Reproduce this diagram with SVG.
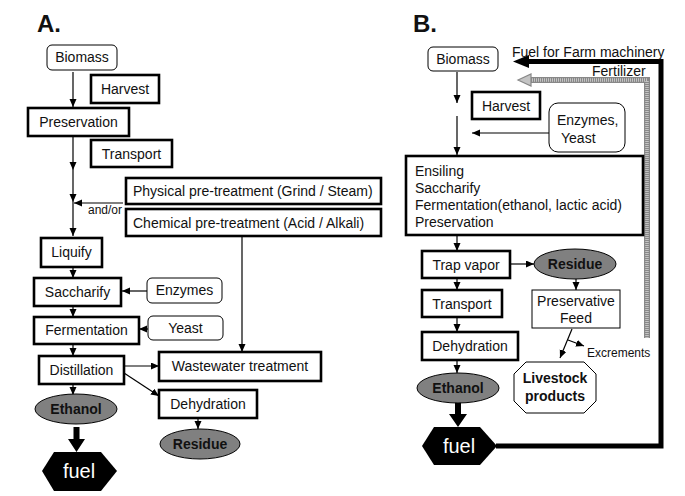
<svg xmlns="http://www.w3.org/2000/svg" width="685" height="496" viewBox="0 0 685 496">
<defs>
<style>
text{font-family:"Liberation Sans",Arial,sans-serif;font-size:14px;fill:#111}
.c{text-anchor:middle}
.b{font-weight:bold}
.h{font-size:24px;font-weight:bold}
.fuel{font-size:20px;fill:#fff;text-anchor:middle}
.sm{font-size:12px}
.thick{fill:#fff;stroke:#000;stroke-width:2.6}
.thin{fill:#fff;stroke:#000;stroke-width:1}
.ell{fill:#808080;stroke:#000;stroke-width:1}
.hex{fill:#000}
.ln{fill:none;stroke:#000;stroke-width:1.2}
</style>
<marker id="ah" markerUnits="userSpaceOnUse" markerWidth="9" markerHeight="8" refX="8" refY="3.5" orient="auto">
<path d="M0,0 L8,3.5 L0,7 z" fill="#000"/>
</marker>
</defs>
<rect width="685" height="496" fill="#fff"/>

<text class="h" x="37" y="32">A.</text>
<text class="h" x="413" y="32">B.</text>

<g id="connectors">
<!-- Panel A -->
<line class="ln" x1="73" y1="72" x2="73" y2="107" marker-end="url(#ah)"/>
<line class="ln" x1="73" y1="137" x2="73" y2="170" marker-end="url(#ah)"/>
<line class="ln" x1="73" y1="170" x2="73" y2="202" marker-end="url(#ah)"/>
<line class="ln" x1="73" y1="202" x2="73" y2="236" marker-end="url(#ah)"/>
<line class="ln" x1="123" y1="203" x2="74" y2="203" marker-end="url(#ah)"/>
<line class="ln" x1="73" y1="267" x2="73" y2="278" marker-end="url(#ah)"/>
<line class="ln" x1="147" y1="291" x2="122" y2="291" marker-end="url(#ah)"/>
<line class="ln" x1="73" y1="306" x2="73" y2="317" marker-end="url(#ah)"/>
<line class="ln" x1="148" y1="329" x2="139" y2="329" marker-end="url(#ah)"/>
<line class="ln" x1="73" y1="344" x2="73" y2="356" marker-end="url(#ah)"/>
<line class="ln" x1="124" y1="366" x2="159" y2="366" marker-end="url(#ah)"/>
<line class="ln" x1="124" y1="373" x2="159" y2="396" marker-end="url(#ah)"/>
<line class="ln" x1="242" y1="237" x2="242" y2="352" marker-end="url(#ah)"/>
<line class="ln" x1="73" y1="384" x2="73" y2="395" marker-end="url(#ah)"/>
<line class="ln" x1="198" y1="418" x2="198" y2="429" marker-end="url(#ah)"/>
<polygon points="73.5,427 79.5,427 79.5,439 85,439 76.5,452 68,439 73.5,439" fill="#000"/>
<!-- Panel B -->
<line class="ln" x1="457" y1="72" x2="457" y2="103" marker-end="url(#ah)"/>
<line class="ln" x1="457" y1="116" x2="457" y2="155" marker-end="url(#ah)"/>
<line class="ln" x1="549" y1="133" x2="472" y2="133" marker-end="url(#ah)"/>
<line class="ln" x1="457" y1="236" x2="457" y2="251" marker-end="url(#ah)"/>
<line class="ln" x1="510" y1="264" x2="534" y2="264" marker-end="url(#ah)"/>
<line class="ln" x1="457" y1="278" x2="457" y2="290" marker-end="url(#ah)"/>
<line class="ln" x1="457" y1="317" x2="457" y2="332" marker-end="url(#ah)"/>
<line class="ln" x1="457" y1="360" x2="457" y2="373" marker-end="url(#ah)"/>
<line class="ln" x1="576" y1="279" x2="576" y2="290" marker-end="url(#ah)"/>
<line class="ln" x1="572" y1="329" x2="560" y2="358" marker-end="url(#ah)"/>
<line class="ln" x1="568" y1="340" x2="584" y2="346" marker-end="url(#ah)"/>
<polygon points="455,402 461,402 461,414 467,414 458,427 449,414 455,414" fill="#000"/>
<!-- Feedback: fuel for farm machinery -->
<polyline points="496,446 661,446 661,61.5 527,61.5" fill="none" stroke="#000" stroke-width="5"/>
<polygon points="513,61.5 529,55 529,68" fill="#000"/>
<!-- Feedback: fertilizer (hatched gray) -->
<polyline points="647,338 647,80 528,80" fill="none" stroke="#888" stroke-width="6"/>
<polyline points="647,338 647,80 528,80" fill="none" stroke="#c4c4c4" stroke-width="3.5" stroke-dasharray="1 1"/>
<polygon points="518,80 531,74 531,86" fill="#c4c4c4" stroke="#888" stroke-width="1.2"/>
</g>

<text class="sm" x="88" y="214">and/or</text>
<text x="512" y="57">Fuel for Farm machinery</text>
<text x="592" y="76">Fertilizer</text>
<text class="sm" x="587" y="357">Excrements</text>

<g id="A-biomass"><rect class="thin" x="47" y="45" width="70" height="25" rx="5"/><text class="c" x="82" y="62">Biomass</text></g>
<g id="A-harvest"><rect class="thick" x="91" y="75" width="68" height="28"/><text class="c" x="125" y="94">Harvest</text></g>
<g id="A-preservation"><rect class="thick" x="28" y="108" width="101" height="28"/><text class="c" x="78.5" y="127">Preservation</text></g>
<g id="A-transport"><rect class="thick" x="91" y="140" width="81" height="27"/><text class="c" x="131.5" y="159">Transport</text></g>
<g id="A-physical"><rect class="thick" x="126" y="178" width="255" height="26"/><text x="133" y="196">Physical pre-treatment (Grind / Steam)</text></g>
<g id="A-chemical"><rect class="thick" x="126" y="209" width="255" height="27"/><text x="133" y="228">Chemical pre-treatment (Acid / Alkali)</text></g>
<g id="A-liquify"><rect class="thick" x="41" y="238" width="61" height="29"/><text class="c" x="71.5" y="257">Liquify</text></g>
<g id="A-saccharify"><rect class="thick" x="34" y="278" width="87" height="28"/><text class="c" x="77.5" y="297">Saccharify</text></g>
<g id="A-enzymes"><rect class="thin" x="147" y="278" width="75" height="25" rx="5"/><text class="c" x="184.5" y="295">Enzymes</text></g>
<g id="A-fermentation"><rect class="thick" x="34" y="317" width="105" height="27"/><text class="c" x="86.5" y="335">Fermentation</text></g>
<g id="A-yeast"><rect class="thin" x="148" y="316" width="75" height="24" rx="5"/><text class="c" x="185.5" y="333">Yeast</text></g>
<g id="A-distillation"><rect class="thick" x="39" y="356" width="85" height="28"/><text class="c" x="81.5" y="375">Distillation</text></g>
<g id="A-wastewater"><rect class="thick" x="159" y="352" width="162" height="29"/><text class="c" x="240" y="371">Wastewater treatment</text></g>
<g id="A-dehydration"><rect class="thick" x="159" y="390" width="98" height="28"/><text class="c" x="208" y="409">Dehydration</text></g>
<g id="A-ethanol"><ellipse class="ell" cx="76" cy="409" rx="41" ry="15"/><text class="c b" x="76" y="414">Ethanol</text></g>
<g id="A-residue"><ellipse class="ell" cx="200" cy="444" rx="40" ry="15"/><text class="c b" x="200" y="449">Residue</text></g>
<g id="A-fuel"><polygon class="hex" points="42,471 54,452 101,452 117,471 101,491 54,491"/><text class="fuel" x="79" y="478">fuel</text></g>

<g id="B-biomass"><rect class="thin" x="428" y="47" width="70" height="24" rx="5"/><text class="c" x="463" y="64">Biomass</text></g>
<g id="B-harvest"><rect class="thick" x="472" y="92" width="68" height="27"/><text class="c" x="506" y="111">Harvest</text></g>
<g id="B-enzymes-yeast"><rect class="thin" x="549" y="103" width="76" height="49" rx="9"/><text x="557" y="125">Enzymes,</text><text x="561" y="143">Yeast</text></g>
<g id="B-ensiling"><rect class="thick" x="406" y="156" width="237" height="79"/><text x="415" y="176">Ensiling</text><text x="415" y="193">Saccharify</text><text x="415" y="210">Fermentation(ethanol, lactic acid)</text><text x="415" y="227">Preservation</text></g>
<g id="B-trap"><rect class="thick" x="422" y="251" width="88" height="27"/><text class="c" x="466" y="270">Trap vapor</text></g>
<g id="B-residue"><ellipse class="ell" cx="575" cy="264" rx="41" ry="15"/><text class="c b" x="575" y="269">Residue</text></g>
<g id="B-transport"><rect class="thick" x="422" y="290" width="80" height="27"/><text class="c" x="462" y="309">Transport</text></g>
<g id="B-feed"><rect class="thin" x="532" y="290" width="88" height="38"/><text class="c" x="576" y="306">Preservative</text><text class="c" x="576" y="323">Feed</text></g>
<g id="B-dehydration"><rect class="thick" x="422" y="332" width="96" height="28"/><text class="c" x="470" y="351">Dehydration</text></g>
<g id="B-livestock"><polygon class="thin" points="526,362 584,362 596,374 596,401 584,413 526,413 514,401 514,374"/><text class="c b" x="555" y="383">Livestock</text><text class="c b" x="555" y="401">products</text></g>
<g id="B-ethanol"><ellipse class="ell" cx="458" cy="388" rx="41" ry="15"/><text class="c b" x="458" y="393">Ethanol</text></g>
<g id="B-fuel"><polygon class="hex" points="422,446 434,427 480,427 497,446 480,465 434,465"/><text class="fuel" x="459" y="453">fuel</text></g>
</svg>
